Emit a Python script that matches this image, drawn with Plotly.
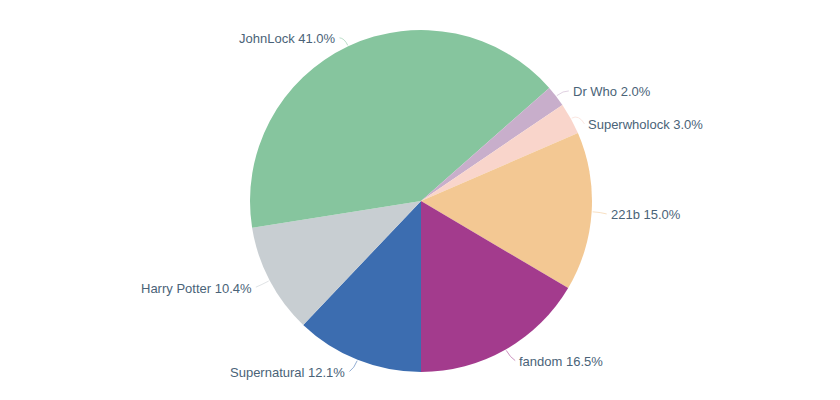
import math
import plotly.graph_objects as go

labels = ["Supernatural", "Harry Potter", "JohnLock", "Dr Who", "Superwholock", "221b", "fandom"]
values = [12.1, 10.4, 41.0, 2.0, 3.0, 15.0, 16.5]
colors = ["#3c6db0", "#c8ced2", "#86c59e", "#c8aecb", "#f9d5cb", "#f3c893", "#a33b8d"]

# page body adds an 8px margin, so the figure is 832x392
W, H = 832, 392
ML, MR, MT, MB = 0, 6, 22, 28
PW, PH = W - ML - MR, H - MT - MB
R = min(PW, PH) / 2
CX, CY = ML + PW / 2, MT + PH / 2
LABEL_R = R + 11
GAP = 6
MIN_DY = 33
TEXT_COLOR = "#4a6378"


def px_to_paper(px, py):
    return (px - ML) / PW, 1 - (py - MT) / PH


fig = go.Figure(go.Pie(
    labels=labels, values=values, sort=False, direction="clockwise", rotation=180,
    textinfo="none", hoverinfo="label+percent",
    marker=dict(colors=colors, line=dict(width=0)),
    showlegend=False, domain=dict(x=[0, 1], y=[0, 1]),
))

total = sum(values)
items = []
cum = 0.0
for lab, val, col in zip(labels, values, colors):
    frac_mid = (cum + val / 2) / total
    cum += val
    th = 2 * math.pi * frac_mid
    ux, uy = -math.sin(th), math.cos(th)
    side = 1 if ux >= 0 else -1
    lx = CX + LABEL_R * ux + side * GAP
    ly = CY + LABEL_R * uy + 2.5
    items.append(dict(label=lab, val=val, col=col, ux=ux, uy=uy, side=side, lx=lx, ly=ly))

# simple collision avoidance per side (top to bottom)
for side in (1, -1):
    group = sorted([it for it in items if it["side"] == side], key=lambda d: d["ly"])
    for a, b in zip(group, group[1:]):
        if b["ly"] - a["ly"] < MIN_DY:
            b["ly"] = a["ly"] + MIN_DY

shapes = []
annotations = []
for it in items:
    pct = it["val"] / total * 100
    x, y = px_to_paper(it["lx"], it["ly"])
    annotations.append(dict(
        x=x, y=y, xref="paper", yref="paper", showarrow=False,
        text=f"{it['label']} {pct:.1f}%",
        xanchor="left" if it["side"] == 1 else "right", yanchor="middle",
        font=dict(family="Liberation Sans, Arial, sans-serif", size=13, color=TEXT_COLOR),
    ))
    ex, ey = CX + (R + 1) * it["ux"], CY + (R + 1) * it["uy"]
    cx_, cy_ = CX + (R + 9) * it["ux"], CY + (R + 9) * it["uy"]
    tx, ty = it["lx"] - it["side"] * 2, it["ly"] - 1
    p = [px_to_paper(ex, ey), px_to_paper(cx_, cy_), px_to_paper(tx, ty)]
    shapes.append(dict(
        type="path", xref="paper", yref="paper",
        path=f"M {p[0][0]} {p[0][1]} Q {p[1][0]} {p[1][1]} {p[2][0]} {p[2][1]}",
        line=dict(color=it["col"], width=1), opacity=0.55,
    ))

fig.update_layout(
    width=W, height=H, margin=dict(l=ML, r=MR, t=MT, b=MB),
    paper_bgcolor="white", plot_bgcolor="white",
    shapes=shapes, annotations=annotations,
)

fig.write_html("out.html")
